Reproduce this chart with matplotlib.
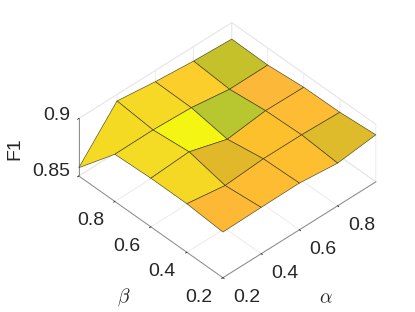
from matplotlib import pyplot as plt
import numpy as np

# значения читаем с картинки
alpha = [0.2, 0.4, 0.6, 0.8, 1.0]
beta = [0.2, 0.4, 0.6, 0.8, 1.0]
f1 = [
    [0.8897, 0.8903, 0.8906, 0.8871, 0.8909],
    [0.8922, 0.8872, 0.8896, 0.8896, 0.8884],
    [0.8923, 0.8944, 0.8845, 0.8885, 0.8880],
    [0.8910, 0.8913, 0.8898, 0.8850, 0.8852],
    [0.8572, 0.8944, 0.8903, 0.8874, 0.8857],
]
tick_labels = ['0.2', '0.4', '0.6', '0.8']
z_ticks = [0.85, 0.9]
z_labels = ['0.85', '0.9']

# цвета ячеек (строка - beta, столбец - alpha)
cell_colors = [
    ['#FDB836', '#FEBC33', '#FDBF2F', '#DDBB2A'],
    ['#F5D824', '#E2B82B', '#FDC02D', '#FEBC35'],
    ['#F5DC24', '#F5F514', '#B8C630', '#FCB838'],
    ['#F5DA24', '#F6D924', '#FBCE2B', '#C5C12A'],
]

plt.rcParams['font.family'] = ['Liberation Sans', 'DejaVu Sans']
plt.rcParams['mathtext.fontset'] = 'cm'
TXT = '#262626'

fig = plt.figure(figsize=(4.15, 3.12), dpi=100)
ax = fig.add_axes([74.3/415, 8.8/312, 298/415, 298/312], projection='3d', proj_type='ortho')
ax.patch.set_alpha(0)
ax.set_box_aspect((210, 210, 77))
ax.view_init(elev=41.7, azim=-133.3)

X, Y = np.meshgrid(alpha, beta)
Z = np.array(f1)
fc = np.array([[plt.matplotlib.colors.to_rgba(c) for c in row] for row in cell_colors])
surf = ax.plot_surface(X, Y, Z, rstride=1, cstride=1, facecolors=fc, shade=False)
surf.set_edgecolor((0.2, 0.2, 0.1, 0.8))
surf.set_linewidth(0.5)
surf.set_clip_on(False)

ax.set_xlim(0.2, 1.0)
ax.set_ylim(0.2, 1.0)
ax.set_zlim(0.85, 0.9)
ax.set_xticks(alpha[:4])
ax.set_yticks(beta[:4])
ax.set_zticks(z_ticks)
ax.set_xticklabels(tick_labels, ha='left')
ax.set_yticklabels(tick_labels, ha='right')
ax.set_zticklabels([])

for axis in (ax.xaxis, ax.yaxis, ax.zaxis):
    axis.set_pane_color((1, 1, 1, 1))
    axis.pane.set_edgecolor('#e4e4e4')
    axis.pane.set_linewidth(0.6)
    axis.line.set_color('#8c8c8c')
    axis.line.set_linewidth(0.7)
    axis._axinfo['grid']['color'] = '#e8e8e8'
    axis._axinfo['grid']['linewidth'] = 0.6
    axis._axinfo['tick']['inward_factor'] = 0.1
    axis._axinfo['tick']['outward_factor'] = 0.0
    axis._axinfo['tick']['color'] = '#8c8c8c'
    axis._axinfo['tick']['linewidth'] = {True: 0.6, False: 0.4}

ax.tick_params(axis='both', labelsize=14, colors=TXT, pad=0)


# подписи в пикселях картинки
def px(x, y):
    return x/415, 1 - y/312


ax.text2D(*px(70, 172), z_labels[0], transform=fig.transFigure, fontsize=14, color=TXT, ha='right', va='center')
ax.text2D(*px(70, 115), z_labels[1], transform=fig.transFigure, fontsize=14, color=TXT, ha='right', va='center')
ax.text2D(*px(15, 149), 'F1', transform=fig.transFigure, fontsize=14, color=TXT, rotation=90, ha='center', va='center')
ax.text2D(*px(124, 297), r'$\beta$', transform=fig.transFigure, fontsize=14, color=TXT, ha='center', va='center')
ax.text2D(*px(326, 299), r'$\alpha$', transform=fig.transFigure, fontsize=14, color=TXT, ha='center', va='center')

fig.savefig('out.png', dpi=100)
